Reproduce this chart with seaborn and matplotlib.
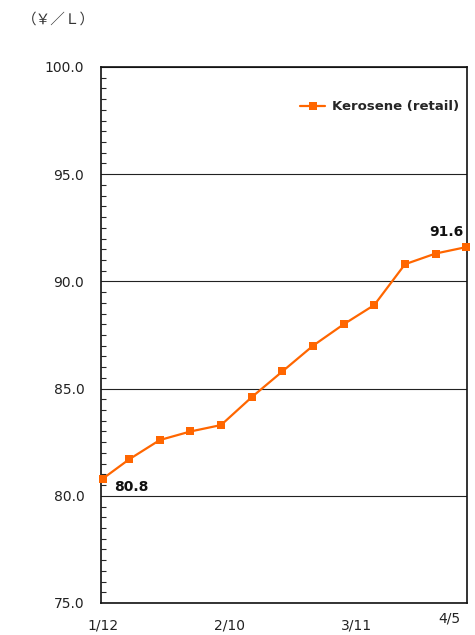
import pandas as pd
import numpy as np
import matplotlib
matplotlib.use('Agg')
import matplotlib.pyplot as plt
import matplotlib.transforms as mtransforms
from matplotlib.ticker import MultipleLocator, FormatStrFormatter
import seaborn as sns

# 灯油小売価格（週次）
dates = ['2010-01-12', '2010-01-18', '2010-01-25', '2010-02-01', '2010-02-08',
         '2010-02-15', '2010-02-22', '2010-03-01', '2010-03-08', '2010-03-15',
         '2010-03-22', '2010-03-29', '2010-04-05']
prices = [80.8, 81.7, 82.6, 83.0, 83.3, 84.6, 85.8, 87.0, 88.0, 88.9, 90.8, 91.3, 91.6]

tick_dates = ['2010-01-12', '2010-02-10', '2010-03-11', '2010-04-05']
tick_labels = ['1/12', '2/10', '3/11', '4/5']

series_name = 'Kerosene (retail)'
unit_label = '（￥／Ｌ）'

sns.set_style('white')
plt.rcParams['font.family'] = ['DejaVu Sans', 'Noto Sans CJK JP']

df = pd.DataFrame({'date': pd.to_datetime(dates), 'price': prices})

fig = plt.figure(figsize=(4.75, 6.35), dpi=100)
ax = fig.add_axes([101 / 475, 1 - 603 / 635, 366 / 475, 536 / 635])

sns.lineplot(data=df, x='date', y='price', ax=ax, color='#FF6600',
             marker='s', markersize=5.5, markeredgewidth=0, linewidth=1.6,
             label=series_name, clip_on=False, zorder=3)

ax.set_ylim(75, 100)
ax.yaxis.set_major_locator(MultipleLocator(5))
ax.yaxis.set_minor_locator(MultipleLocator(0.5))
ax.yaxis.set_major_formatter(FormatStrFormatter('%.1f'))
ax.set_xlim(df['date'].iloc[0] - pd.Timedelta(hours=10),
            df['date'].iloc[-1] + pd.Timedelta(hours=4))
ax.set_xticks(pd.to_datetime(tick_dates))
ax.set_xticklabels(tick_labels)
ax.set_xlabel('')
ax.set_ylabel('')

ax.grid(axis='y', which='major', color='#222222', linewidth=0.8)
ax.set_axisbelow(True)
for sp in ax.spines.values():
    sp.set_color('#111111')
    sp.set_linewidth(1.2)

ax.tick_params(axis='y', which='major', direction='in', length=5, width=0.8,
               pad=12, labelsize=10, labelcolor='#222222')
ax.tick_params(axis='y', which='minor', direction='in', length=3.5, width=0.8, left=True)
ax.tick_params(axis='x', which='major', direction='in', length=4, width=0.8,
               pad=11, labelsize=10, labelcolor='#222222')

# 4/5 ラベルは少し上・右寄せ
lbl = ax.get_xticklabels()[-1]
lbl.set_horizontalalignment('right')
lbl.set_transform(lbl.get_transform() +
                  mtransforms.ScaledTranslation(-4 / 72, 5 / 72, fig.dpi_scale_trans))

# 始値・終値の注記
ax.annotate(f'{prices[0]:.1f}', (df['date'].iloc[0], prices[0]),
            xytext=(8, -6), textcoords='offset points', ha='left', va='center',
            fontsize=10, fontweight='bold', color='#111111')
ax.annotate(f'{prices[-1]:.1f}', (df['date'].iloc[-1], prices[-1]),
            xytext=(-2, 11), textcoords='offset points', ha='right', va='center',
            fontsize=10, fontweight='bold', color='#111111')

leg = ax.legend(loc='upper right', frameon=False, handlelength=1.9,
                handletextpad=0.5, bbox_to_anchor=(1.01, 0.96),
                prop={'weight': 'bold', 'size': 9.5})

fig.text(22 / 475, 1 - 20 / 635, unit_label, fontsize=10.5, color='#333333',
         ha='left', va='center', family=['Noto Sans CJK JP', 'DejaVu Sans'])

fig.savefig('out.png', dpi=100)
